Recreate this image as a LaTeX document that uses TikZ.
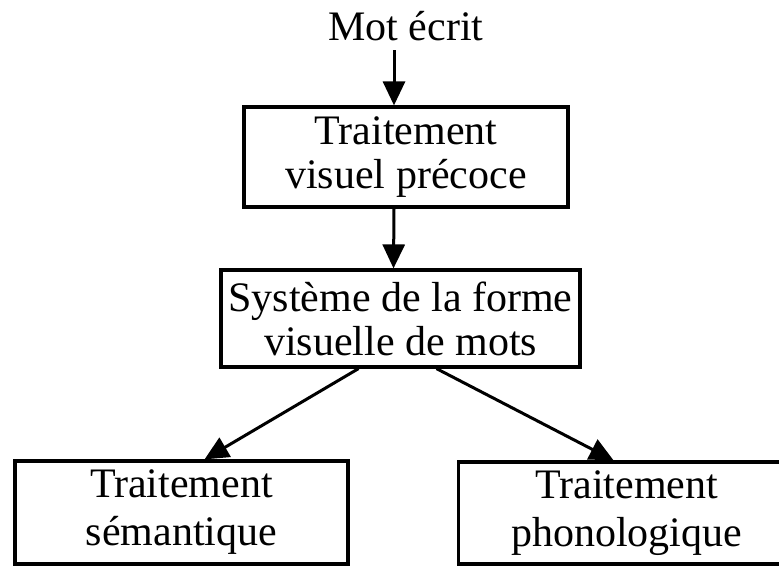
\documentclass[tikz,border=0pt]{standalone}
\usepackage{fontspec}
\setmainfont{Liberation Serif}
\usetikzlibrary{arrows.meta}

\tikzset{
  stage/.style={draw, line width=3.2pt, align=center, inner sep=0pt,
    font=\fontsize{42}{44}\selectfont},
  lowstage/.style={stage, font=\fontsize{42}{48}\selectfont},
  flow/.style={line width=3pt, -{Triangle[length=24pt,width=22pt]}}
}

\begin{document}
\begin{tikzpicture}[x=1pt, y=-1pt]
  \useasboundingbox (0,0) rectangle (779,566);
  \clip (0,0) rectangle (779,566);

  % input label
  \node[font=\fontsize{42}{44}\selectfont, anchor=base, inner sep=0pt] (mot) at (406,40) {Mot écrit};

  % processing stages
  \node[stage, minimum width=324pt, minimum height=100pt] (early) at (406,157)
    {Traitement\\visuel précoce};
  \node[stage, minimum width=359pt, minimum height=97pt] (vwfs) at (400.5,318.5)
    {Système de la forme\\visuelle de mots};
  \node[lowstage, minimum width=333pt, minimum height=103pt] (sem) at (181.5,512.5)
    {Traitement\\sémantique};
  \node[lowstage, minimum width=336pt, minimum height=102pt, anchor=west] (phon) at (457,513)
    {Traitement\\phonologique};

  % connections
  \draw[flow] ([xshift=-12pt,yshift=-10pt]mot.base) -- ([xshift=-12pt]early.north);
  \draw[flow] ([xshift=-12pt]early.south) -- ([xshift=-7pt]vwfs.north);
  \draw[flow] ([xshift=-42pt]vwfs.south) -- ([xshift=23pt]sem.north);
  \draw[flow] ([xshift=36pt]vwfs.south) -- ([xshift=-13pt]phon.north);
\end{tikzpicture}
\end{document}
